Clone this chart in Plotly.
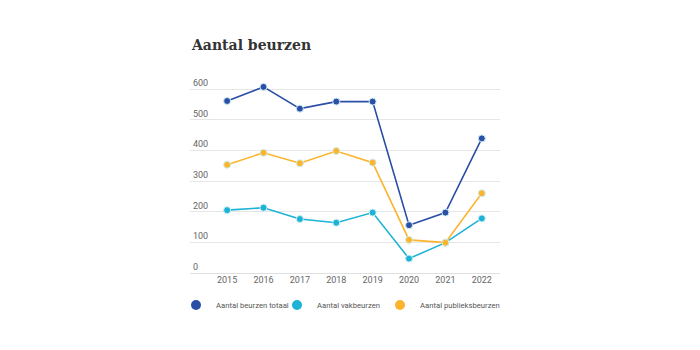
import plotly.graph_objects as go

years = ["2015", "2016", "2017", "2018", "2019", "2020", "2021", "2022"]
totaal = [561, 607, 536, 559, 559, 156, 197, 439]
vak = [205, 213, 176, 164, 197, 47, 99, 178]
publieks = [353, 392, 358, 398, 360, 108, 99, 260]

series = [
    ("Aantal beurzen totaal", totaal, "#2b4fa6", "legend", 176),
    ("Aantal vakbeurzen", vak, "#1db3d7", "legend2", 277),
    ("Aantal publieksbeurzen", publieks, "#fbb42c", "legend3", 380),
]

fig = go.Figure()
for name, vals, color, _, _ in series:
    fig.add_trace(go.Scatter(
        x=years, y=vals, mode="lines+markers", name=name, showlegend=False,
        line=dict(color=color, width=1.6),
        marker=dict(color=color, size=7, line=dict(color="#cdeff2", width=1)),
        hoverinfo="x+y+name",
    ))
# each legend entry gets its own legend box so they can be spaced freely
legend_boxes = {}
for name, vals, color, lg, left in series:
    fig.add_trace(go.Scatter(
        x=[None], y=[None], mode="markers", name=name, legend=lg,
        marker=dict(color=color, size=10),
    ))
    legend_boxes[lg] = dict(
        x=left / 700, xanchor="left", xref="container",
        y=1 - 305 / 350, yref="container", yanchor="middle",
        font=dict(size=7.7, color="#555555"), bgcolor="rgba(0,0,0,0)",
    )

fig.update_layout(
    width=700, height=350,
    margin=dict(l=0, r=0, t=0, b=0, autoexpand=False),
    paper_bgcolor="white", plot_bgcolor="white",
    font=dict(family="Roboto, sans-serif", color="#666666", size=9),
    title=dict(
        text="<b>Aantal beurzen</b>",
        font=dict(family="DejaVu Serif", size=14, color="#333333"),
        xref="container", yref="container",
        x=192 / 700, xanchor="left", y=1 - 45 / 350, yanchor="middle",
    ),
    xaxis=dict(
        type="category", range=[-1.02, 7.5], domain=[190 / 700, 500 / 700],
        showgrid=False, zeroline=False, showline=False, ticks="",
        tickfont=dict(size=9, color="#666666"),
    ),
    yaxis=dict(
        range=[0, 650], domain=[1 - 273 / 350, 1 - 73.7 / 350],
        tickvals=[0, 100, 200, 300, 400, 500, 600],
        showgrid=True, gridcolor="#e6e6e6", gridwidth=1, zeroline=True,
        zerolinecolor="#e0e0e0", zerolinewidth=1,
        ticklabelposition="inside top", tickfont=dict(size=9, color="#666666"),
        showline=False, ticks="",
    ),
    hovermode="closest",
    **legend_boxes,
)

fig.write_html("out.html")
